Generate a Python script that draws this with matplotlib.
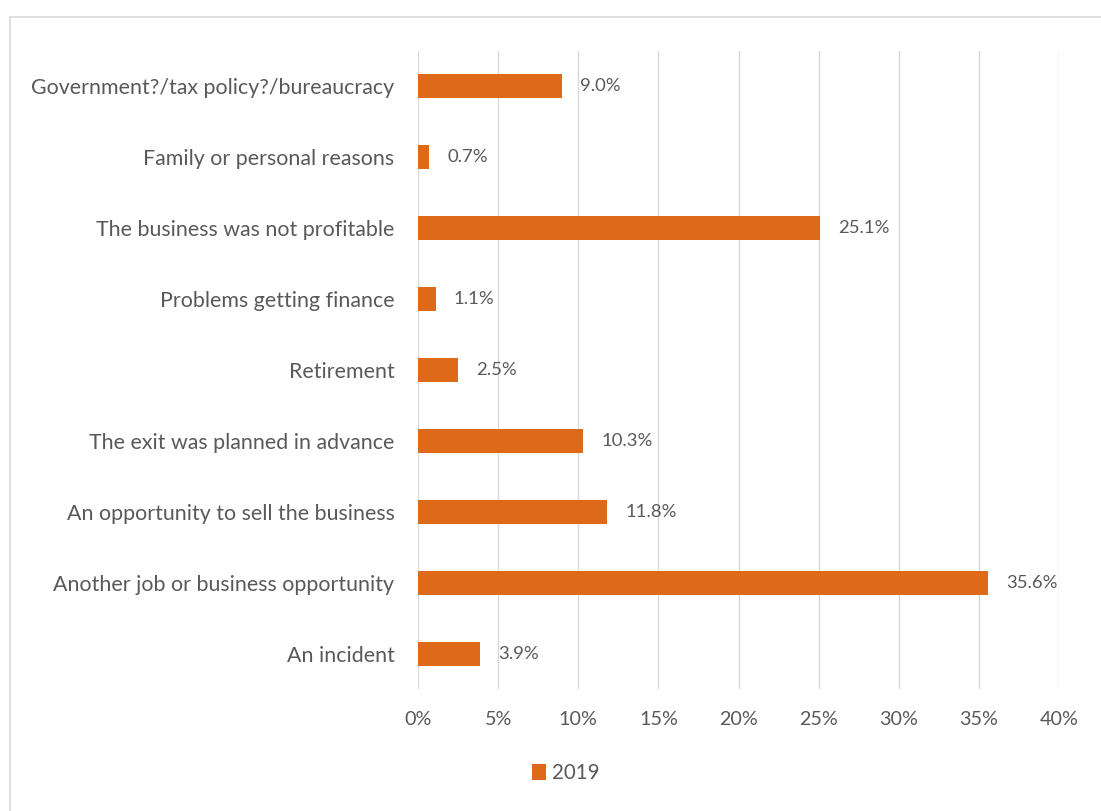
import matplotlib
matplotlib.use("Agg")
import matplotlib.pyplot as plt
from matplotlib.patches import Rectangle
from matplotlib.ticker import FuncFormatter, MultipleLocator

categories = [
    "Government?/tax policy?/bureaucracy",
    "Family or personal reasons",
    "The business was not profitable",
    "Problems getting finance",
    "Retirement",
    "The exit was planned in advance",
    "An opportunity to sell the business",
    "Another job or business opportunity",
    "An incident",
]
values_2019 = [9.0, 0.7, 25.1, 1.1, 2.5, 10.3, 11.8, 35.6, 3.9]
series_name = "2019"

BAR_COLOR = "#DE6919"
TEXT_COLOR = "#595959"
GRID_COLOR = "#D9D9D9"

plt.rcParams["font.family"] = ["Lato", "DejaVu Sans"]

W, H = 1101, 811
fig = plt.figure(figsize=(W / 100, H / 100), dpi=100)
fig.patch.set_facecolor("white")

# chart frame
fig.patches.append(Rectangle((10 / W, -0.01), 1.2, (H - 17) / H + 0.01,
                             transform=fig.transFigure, fill=False,
                             edgecolor="#D9D9D9", linewidth=1.2))

ax = fig.add_axes([418 / W, 1 - 689 / H, (1059 - 418) / W, (689 - 51) / H])
ypos = list(range(len(categories)))
bars = ax.barh(ypos, values_2019, height=0.34, color=BAR_COLOR, label=series_name,
               zorder=3)
ax.set_ylim(len(categories) - 0.5, -0.5)
ax.set_xlim(0, 40)
ax.set_yticks(ypos)
ax.set_yticklabels(categories)
ax.xaxis.set_major_locator(MultipleLocator(5))
ax.xaxis.set_major_formatter(FuncFormatter(lambda v, p: f"{v:.0f}%"))
ax.grid(axis="x", color=GRID_COLOR, linewidth=1, zorder=0)
ax.tick_params(axis="both", length=0, colors=TEXT_COLOR)
ax.tick_params(axis="y", labelsize=15.4, pad=17)
ax.tick_params(axis="x", labelsize=14.2, pad=16)
for s in ax.spines.values():
    s.set_visible(False)

for y, v in zip(ypos, values_2019):
    ax.annotate(f"{v:.1f}%", xy=(v, y), xytext=(13, 0), textcoords="offset points",
                ha="left", va="center", fontsize=13.3, color=TEXT_COLOR)

leg = fig.legend(handles=[bars], labels=[series_name], loc="center",
                 bbox_to_anchor=(566 / W, 1 - 773 / H), frameon=False,
                 fontsize=14.8, handlelength=0.65, handleheight=0.85,
                 handletextpad=0.3, labelcolor=TEXT_COLOR)

fig.savefig("out.png", dpi=100, facecolor="white")
